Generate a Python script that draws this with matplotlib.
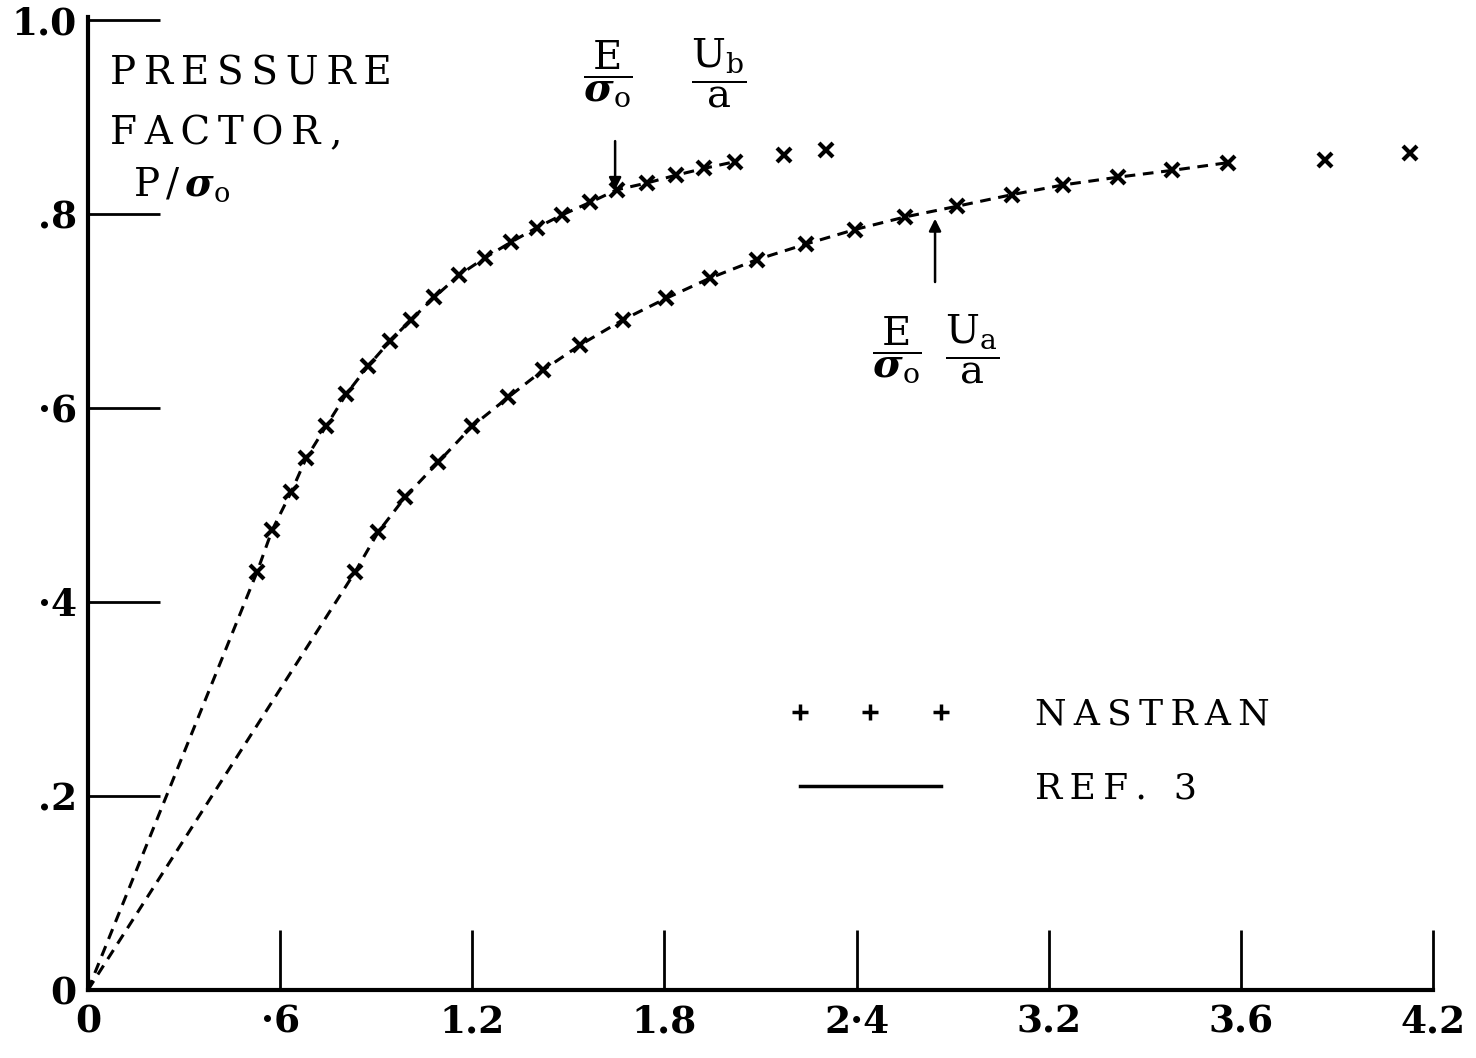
import matplotlib
matplotlib.use('Agg')
import matplotlib.pyplot as plt
from matplotlib.lines import Line2D
import numpy as np

plt.rcParams['font.family'] = ['DejaVu Serif', 'DejaVu Sans']
plt.rcParams['mathtext.fontset'] = 'dejavuserif'

# upper curve, E/sigma_o * Ub/a
ub_x = [0.528, 0.575, 0.634, 0.681, 0.743, 0.806, 0.874, 0.943, 1.009, 1.081,
        1.159, 1.240, 1.321, 1.402, 1.480, 1.568, 1.652, 1.746, 1.836, 1.924,
        2.021, 2.174, 2.305]
ub_y = [0.431, 0.474, 0.513, 0.548, 0.581, 0.614, 0.643, 0.669, 0.691, 0.714,
        0.737, 0.755, 0.771, 0.786, 0.799, 0.812, 0.825, 0.832, 0.840, 0.847,
        0.854, 0.861, 0.866]
# lower curve, E/sigma_o * Ua/a
ua_x = [0.834, 0.906, 0.990, 1.093, 1.199, 1.312, 1.421, 1.537, 1.671, 1.805,
        1.943, 2.089, 2.242, 2.395, 2.552, 2.714, 2.886, 3.046, 3.217, 3.386,
        3.561, 3.864, 4.129]
ua_y = [0.431, 0.472, 0.508, 0.544, 0.581, 0.611, 0.639, 0.665, 0.691, 0.713,
        0.734, 0.753, 0.769, 0.784, 0.797, 0.808, 0.820, 0.830, 0.838, 0.845,
        0.853, 0.856, 0.863]

xticks = [0, 0.6, 1.2, 1.8, 2.4, 3.0, 3.6, 4.2]
xlabels = ['0', '·6', '1.2', '1.8', '2·4', '3.2', '3.6', '4.2']
yticks = [0, 0.2, 0.4, 0.6, 0.8, 1.0]
ylabels = ['0', '.2', '·4', '·6', '.8', '1.0']


def spaced(s, gap='\u2009'):
    # old typewriter style lettering is wide, pad every letter
    return gap.join(s)


fig = plt.figure(figsize=(14.76, 10.58), dpi=100)
ax = fig.add_axes([0.0596, 0.0643, 0.9113, 0.9168])

dash = (0, (3.5, 2.5))
for xs, ys in [(ub_x, ub_y), (ua_x, ua_y)]:
    ax.plot([0] + xs[:-2], [0] + ys[:-2], color='black', lw=2.2, linestyle=dash)
    ax.plot(xs, ys, linestyle='none', marker='x', ms=10, mew=3, color='black')

ax.set_xlim(0, 4.2)
ax.set_ylim(0, 1.0)
ax.set_xticks(xticks)
ax.set_xticklabels(xlabels, fontsize=27, fontweight='bold')
ax.set_yticks(yticks)
ax.set_yticklabels(ylabels, fontsize=27, fontweight='bold')
ax.tick_params(axis='x', direction='in', length=43, width=2, pad=10)
ax.tick_params(axis='y', direction='in', length=52, width=2, pad=8)
ax.spines['top'].set_visible(False)
ax.spines['right'].set_visible(False)
ax.spines['left'].set_linewidth(3)
ax.spines['bottom'].set_linewidth(3)
ax.spines['left'].set_bounds(0, 1.003)

# y axis caption
ax.text(0.069, 0.944, spaced('PRESSURE'), fontsize=28, va='center', ha='left')
ax.text(0.069, 0.883, spaced('FACTOR') + '\u2005,', fontsize=28, va='center', ha='left')
ax.text(0.14, 0.83, r'P$\,$/$\,\boldsymbol{\sigma}_\mathrm{o}$', fontsize=28, va='center', ha='left')

# curve labels
frac_e = r'$\dfrac{\mathrm{E}}{\boldsymbol{\sigma}_\mathrm{o}}$'
ax.text(1.625, 0.945, frac_e, fontsize=29, ha='center', va='center')
ax.text(1.97, 0.945, r'$\dfrac{\mathrm{U_b}}{\mathrm{a}}$', fontsize=29, ha='center', va='center')
ax.annotate('', xy=(1.646, 0.822), xytext=(1.646, 0.878),
            arrowprops=dict(arrowstyle='-|>', color='black', lw=1.8, mutation_scale=18))
ax.text(2.525, 0.66, frac_e, fontsize=29, ha='center', va='center')
ax.text(2.76, 0.66, r'$\dfrac{\mathrm{U_a}}{\mathrm{a}}$', fontsize=29, ha='center', va='center')
ax.annotate('', xy=(2.645, 0.798), xytext=(2.645, 0.727),
            arrowprops=dict(arrowstyle='-|>', color='black', lw=1.8, mutation_scale=18))

handles = [Line2D([], [], linestyle='none', marker='+', ms=12, mew=2.5, color='black'),
           Line2D([], [], color='black', lw=2.5)]
ax.legend(handles, [spaced('NASTRAN'), spaced('REF.') + '\u2005\u2005\u2005' + '3'],
          loc='upper left', bbox_to_anchor=(0.497, 0.335),
          frameon=False, numpoints=3, fontsize=26, handlelength=4.5,
          handletextpad=2.3, labelspacing=1.1)

fig.savefig('out.png', dpi=100)
